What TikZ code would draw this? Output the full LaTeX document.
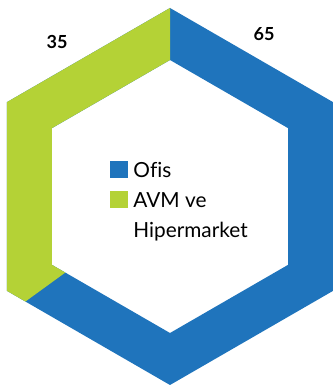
\documentclass[tikz,border=0pt]{standalone}
\usepackage{fontspec}
\setmainfont{Lato}[Ligatures=NoCommon]
\usepackage{tikz}
\usetikzlibrary{positioning,calc}

\definecolor{ofisblue}{HTML}{1F74BC}
\definecolor{avmgreen}{HTML}{B4D236}

\tikzset{
  legbox/.style={minimum width=18pt, minimum height=17pt, inner sep=0pt},
  leglabel/.style={inner sep=0pt, anchor=base west, font=\fontsize{20.8}{24}\selectfont},
  valuelabel/.style={font=\fontsize{18}{20}\selectfont\bfseries},
}

\begin{document}
\begin{tikzpicture}[x=1pt,y=1pt]
  \useasboundingbox (0,0) rectangle (332,-385);

  % centre and radii of the hexagon ring
  \coordinate (c) at (170,-196.5);
  \def\Rout{188.5}
  \def\Rin{136.5}
  % radius along the split ray (216 deg)
  \pgfmathsetmacro{\Rsplit}{\Rout*cos(30)/cos(24)}
  \pgfmathsetmacro{\rsplit}{\Rin*cos(30)/cos(24)}

  % Ofis ring (blue, whole ring)
  \fill[ofisblue, even odd rule]
    ($(c)+(90:\Rout)$) -- ($(c)+(150:\Rout)$) -- ($(c)+(210:\Rout)$)
    -- ($(c)+(270:\Rout)$) -- ($(c)+(330:\Rout)$) -- ($(c)+(30:\Rout)$) -- cycle
    ($(c)+(90:\Rin)$) -- ($(c)+(150:\Rin)$) -- ($(c)+(210:\Rin)$)
    -- ($(c)+(270:\Rin)$) -- ($(c)+(330:\Rin)$) -- ($(c)+(30:\Rin)$) -- cycle;

  % AVM ve Hipermarket segment (green, 35 percent)
  \fill[avmgreen]
    ($(c)+(90:\Rout)$) -- ($(c)+(150:\Rout)$) -- ($(c)+(210:\Rout)$)
    -- ($(c)+(216:\Rsplit)$) -- ($(c)+(216:\rsplit)$)
    -- ($(c)+(210:\Rin)$) -- ($(c)+(150:\Rin)$) -- ($(c)+(90:\Rin)$) -- cycle;

  % values
  \node[valuelabel] (avmval) at (57,-41.5) {35};
  \node[valuelabel] (ofisval) at (264,-34.5) {65};

  % legend
  \node[legbox, fill=ofisblue] (ofisbox) at (119,-169.5) {};
  \node[legbox, fill=avmgreen] (avmbox) at (119,-199.5) {};
  \node[leglabel] (ofislbl) at ([xshift=5pt,yshift=-7.5pt]ofisbox.east) {Ofis};
  \node[leglabel] (avmlbl) at ([xshift=5pt,yshift=-7.5pt]avmbox.east) {AVM ve};
  \node[leglabel] (hiplbl) at ([yshift=-30pt]avmlbl.base west) {Hipermarket};
\end{tikzpicture}
\end{document}
